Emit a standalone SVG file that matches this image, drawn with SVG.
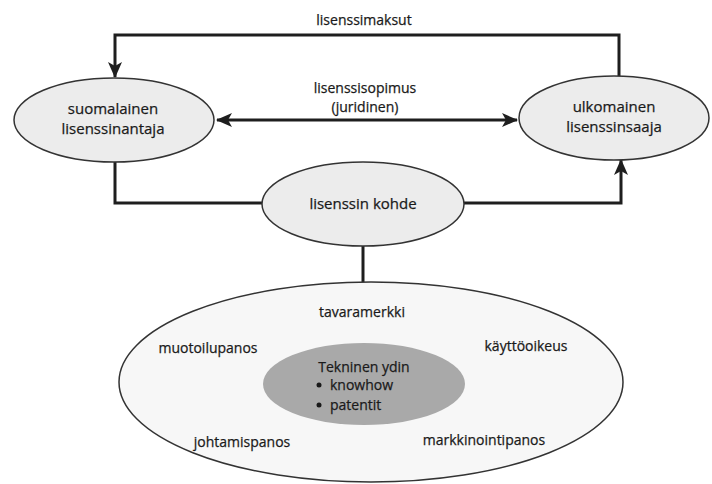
<svg xmlns="http://www.w3.org/2000/svg" width="712" height="484" viewBox="0 0 712 484">
<style>
.bg{fill:#ffffff}
.node{fill:#ececec;stroke:#333;stroke-width:1.5}
.outer{fill:#f7f7f7;stroke:#333;stroke-width:1.5}
.core{fill:#a9a9a9;stroke:none}
.conn{fill:none;stroke:#1e1e1e;stroke-width:3}
.t{font-family:"Open Sans","Liberation Sans",sans-serif;font-size:14px;fill:#1a1a1a;stroke:#1a1a1a;stroke-width:0.25;text-anchor:middle}
.tn{font-family:"Open Sans","Liberation Sans",sans-serif;font-size:15px;fill:#1a1a1a;stroke:#1a1a1a;stroke-width:0.25;text-anchor:middle}
.tl{font-family:"Open Sans","Liberation Sans",sans-serif;font-size:14px;fill:#1a1a1a;stroke:#1a1a1a;stroke-width:0.25}
.bul{fill:#1a1a1a}
</style>
<defs>
<marker id="ah" viewBox="0 0 16 14" refX="15" refY="7" markerWidth="16" markerHeight="14" markerUnits="userSpaceOnUse" orient="auto-start-reverse">
<path d="M0,0 L16,7 L0,14 L4,7 Z" fill="#1e1e1e"/>
</marker>
</defs>
<rect class="bg" width="712" height="484"/>
<g id="connectors">
<path class="conn" d="M619,76 V35 H115 V77" marker-end="url(#ah)"/>
<path class="conn" d="M217,120 H517" marker-start="url(#ah)" marker-end="url(#ah)"/>
<path class="conn" d="M115,162 V203 H262"/>
<path class="conn" d="M464,203 H621 V160" marker-end="url(#ah)"/>
<path class="conn" d="M363,246 V283"/>
</g>
<g id="label-lisenssimaksut"><text class="t" x="364" y="25">lisenssimaksut</text></g>
<g id="label-lisenssisopimus"><text class="t" x="365" y="93">lisenssisopimus</text><text class="t" x="365" y="112">(juridinen)</text></g>
<g id="node-antaja">
<ellipse class="node" cx="114" cy="120" rx="100" ry="42"/>
<text class="tn" x="113" y="114">suomalainen</text>
<text class="tn" x="113" y="134">lisenssinantaja</text>
</g>
<g id="node-saaja">
<ellipse class="node" cx="614" cy="118" rx="95" ry="42"/>
<text class="tn" x="614" y="112">ulkomainen</text>
<text class="tn" x="614" y="132">lisenssinsaaja</text>
</g>
<g id="node-kohde">
<ellipse class="node" cx="363" cy="204" rx="101" ry="42"/>
<text class="tn" x="363" y="209">lisenssin kohde</text>
</g>
<g id="node-sisalto">
<ellipse class="outer" cx="371" cy="382" rx="252" ry="100"/>
<ellipse class="core" cx="364" cy="384" rx="101" ry="41"/>
<text class="t" x="362" y="317">tavaramerkki</text>
<text class="t" x="208" y="353">muotoilupanos</text>
<text class="t" x="526" y="351">käyttöoikeus</text>
<text class="t" x="364" y="372">Tekninen ydin</text>
<circle class="bul" cx="319" cy="385" r="2.5"/>
<text class="tl" x="330" y="390">knowhow</text>
<circle class="bul" cx="319" cy="405" r="2.5"/>
<text class="tl" x="330" y="410">patentit</text>
<text class="t" x="242" y="447">johtamispanos</text>
<text class="t" x="484" y="445">markkinointipanos</text>
</g>
</svg>
